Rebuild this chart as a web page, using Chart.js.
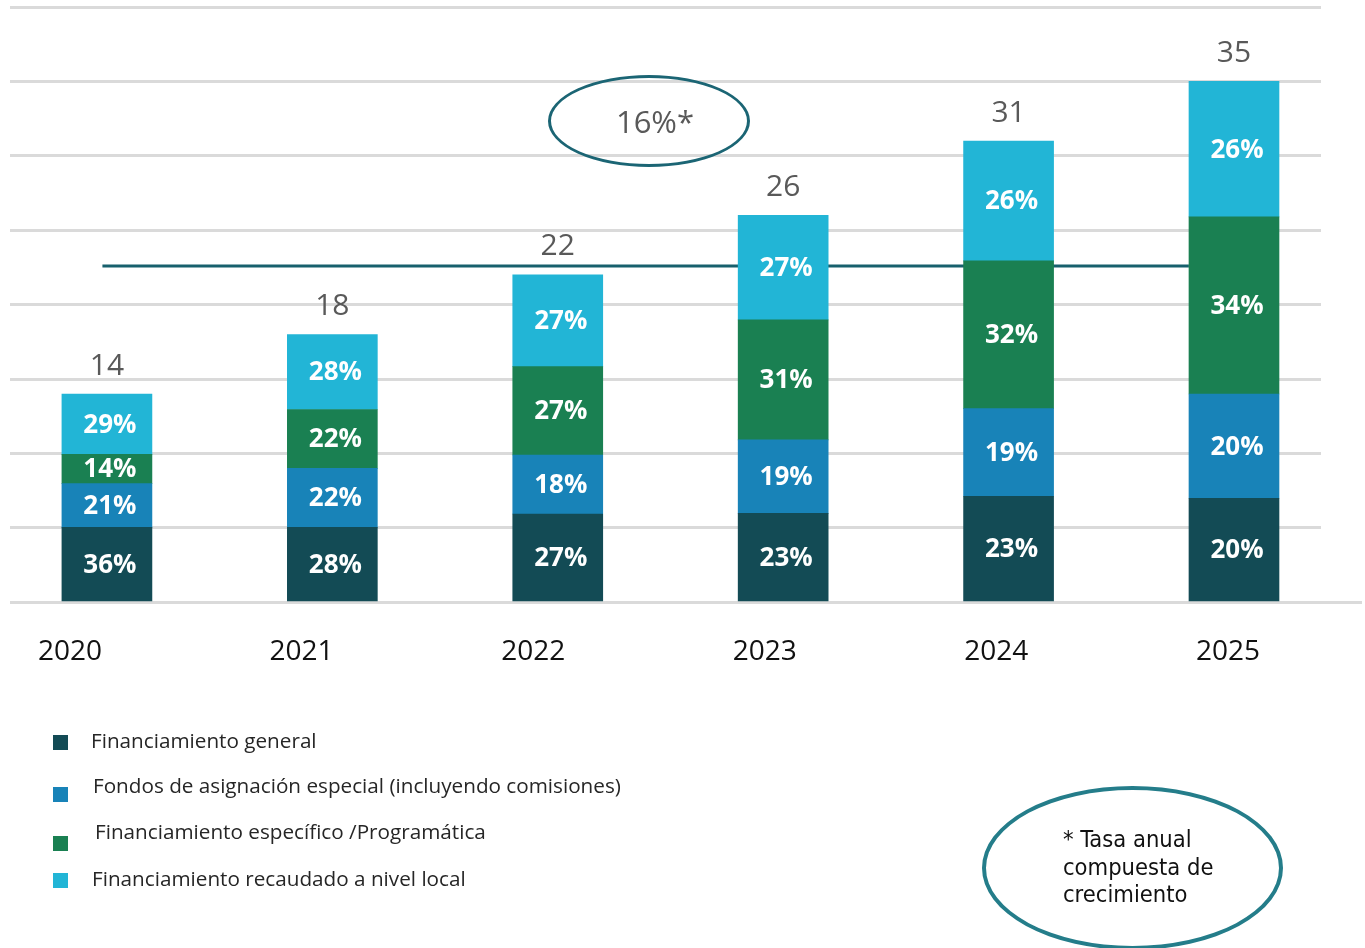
<!DOCTYPE html>
<html>
<head>
<meta charset="utf-8">
<script src="https://cdn.jsdelivr.net/npm/chart.js@4.4.1/dist/chart.umd.min.js"></script>
<style>
body{margin:0;background:#fff;}
#wrap{position:relative;width:1365px;height:948px;overflow:hidden;font-family:"Open Sans",sans-serif;}
#box{position:absolute;left:0;top:0;width:1365px;height:948px;}
.leg{position:absolute;font-size:20.7px;color:#262626;white-space:nowrap;line-height:24px;}
.sq{position:absolute;width:15px;height:15px;}
#cagr{position:absolute;left:548px;top:75px;width:202px;height:92px;box-sizing:border-box;border:3px solid #1b6574;border-radius:50%;display:flex;align-items:center;justify-content:center;padding-left:12px;font-size:31px;color:#595959;}
#note{position:absolute;left:982px;top:786px;width:301px;height:164px;box-sizing:border-box;border:4px solid #247d8a;border-radius:50%;}
#note div{position:absolute;left:77px;top:36px;font-family:"DejaVu Sans Condensed","DejaVu Sans",sans-serif;font-size:23.5px;line-height:27.5px;color:#111;}
</style>
</head>
<body>
<div id="wrap">
  <div id="box"><canvas id="myChart"></canvas></div>
  <div id="legend"></div>
  <div id="cagr">16%*</div>
  <div id="note"><div>* Tasa anual<br>compuesta de<br>crecimiento</div></div>
</div>
<script>
// datos
const years = ['2020', '2021', '2022', '2023', '2024', '2025'];
const totals = [14, 18, 22, 26, 31, 35];
const pctGeneral = [36, 28, 27, 23, 23, 20];
const pctEspecial = [21, 22, 18, 19, 19, 20];
const pctEspecifico = [14, 22, 27, 31, 32, 34];
const pctLocal = [29, 28, 27, 27, 26, 26];
const seriesNames = [
  'Financiamiento general',
  'Fondos de asignación especial (incluyendo comisiones)',
  'Financiamiento específico /Programática',
  'Financiamiento recaudado a nivel local'
];
const seriesColors = ['#134b55', '#1883b8', '#1a8052', '#22b5d6'];
const cagrLevel = 22.6;
const cagrFrom = -0.02;
const cagrTo = 4.8;

const pctSeries = [pctGeneral, pctEspecial, pctEspecifico, pctLocal];

// segmentos: el ultimo completa hasta el total
function segValues(d) {
  return totals.map(function (t, i) {
    if (d < 3) return t * pctSeries[d][i] / 100;
    var used = 0;
    for (var k = 0; k < 3; k++) used += t * pctSeries[k][i] / 100;
    return t - used;
  });
}

const barSets = pctSeries.map(function (arr, d) {
  return {
    label: seriesNames[d],
    data: segValues(d).map(function (v, i) { return {x: i, y: v}; }),
    backgroundColor: seriesColors[d],
    borderWidth: 0,
    barThickness: 90,
    xAxisID: 'x',
    yAxisID: 'y'
  };
});

const refLine = {
  type: 'line',
  label: 'cagr',
  data: [{x: cagrFrom, y: cagrLevel}, {x: cagrTo, y: cagrLevel}],
  borderColor: '#17606d',
  borderWidth: 3,
  pointRadius: 0,
  order: 1,
  xAxisID: 'x',
  yAxisID: 'y'
};

const segLabels = {
  id: 'segLabels',
  beforeDatasetsDraw(chart) {
    const ctx = chart.ctx;
    const y0 = chart.scales.y.getPixelForValue(0);
    ctx.save();
    ctx.strokeStyle = '#dadada';
    ctx.lineWidth = 3;
    ctx.beginPath();
    ctx.moveTo(chart.chartArea.right, y0);
    ctx.lineTo(chart.width - 3, y0);
    ctx.stroke();
    ctx.restore();
  },
  afterDatasetsDraw(chart) {
    const ctx = chart.ctx;
    ctx.save();
    ctx.textAlign = 'center';
    ctx.textBaseline = 'middle';
    ctx.font = 'bold 26px "Open Sans"';
    ctx.fillStyle = '#fff';
    pctSeries.forEach(function (arr, d) {
      chart.getDatasetMeta(d).data.forEach(function (bar, i) {
        ctx.fillText(arr[i] + '%', bar.x + 3, (bar.y + bar.base) / 2 + 1);
      });
    });
    ctx.font = '30px "Open Sans"';
    ctx.fillStyle = '#595959';
    chart.getDatasetMeta(3).data.forEach(function (bar, i) {
      ctx.fillText(String(totals[i]), bar.x, bar.y - 28);
    });
    ctx.restore();
  }
};

const config = {
  type: 'bar',
  data: {datasets: barSets.concat([refLine])},
  options: {
    responsive: true,
    maintainAspectRatio: false,
    animation: false,
    layout: {padding: {left: 10, right: 44, top: 7, bottom: 246}},
    plugins: {legend: {display: false}, tooltip: {enabled: false}},
    scales: {
      x: {type: 'linear', min: -0.43, max: 5.386, display: false, stacked: true, offset: false, grid: {offset: false}},
      xYears: {
        type: 'linear',
        position: 'bottom',
        min: -0.259,
        max: 5.402,
        offset: false,
        grid: {display: false, drawTicks: false, offset: false},
        border: {display: false},
        afterBuildTicks: function (axis) {
          axis.ticks = years.map(function (_, i) { return {value: i}; });
        },
        ticks: {
          autoSkip: false,
          maxRotation: 0,
          padding: 33,
          color: '#111',
          font: {family: 'Open Sans', size: 28},
          callback: function (v) { return years[v]; }
        }
      },
      y: {
        min: 0,
        max: 40,
        stacked: true,
        ticks: {display: false, stepSize: 5},
        grid: {color: '#dadada', lineWidth: 3, drawTicks: false},
        border: {display: false}
      }
    }
  },
  plugins: [segLabels]
};

const myChart = new Chart(document.getElementById('myChart'), config);

// leyenda
const legTextPos = [[91, 740], [93, 785], [95, 831], [92, 878]];
const legBoxY = [742, 794, 843, 880];
const legend = document.getElementById('legend');
seriesNames.forEach(function (name, i) {
  var sq = document.createElement('div');
  sq.className = 'sq';
  sq.style.left = '53px';
  sq.style.top = (legBoxY[i] - 7) + 'px';
  sq.style.background = seriesColors[i];
  legend.appendChild(sq);
  var t = document.createElement('div');
  t.className = 'leg';
  t.style.left = legTextPos[i][0] + 'px';
  t.style.top = (legTextPos[i][1] - 12) + 'px';
  t.textContent = name;
  legend.appendChild(t);
});
</script>
</body>
</html>
